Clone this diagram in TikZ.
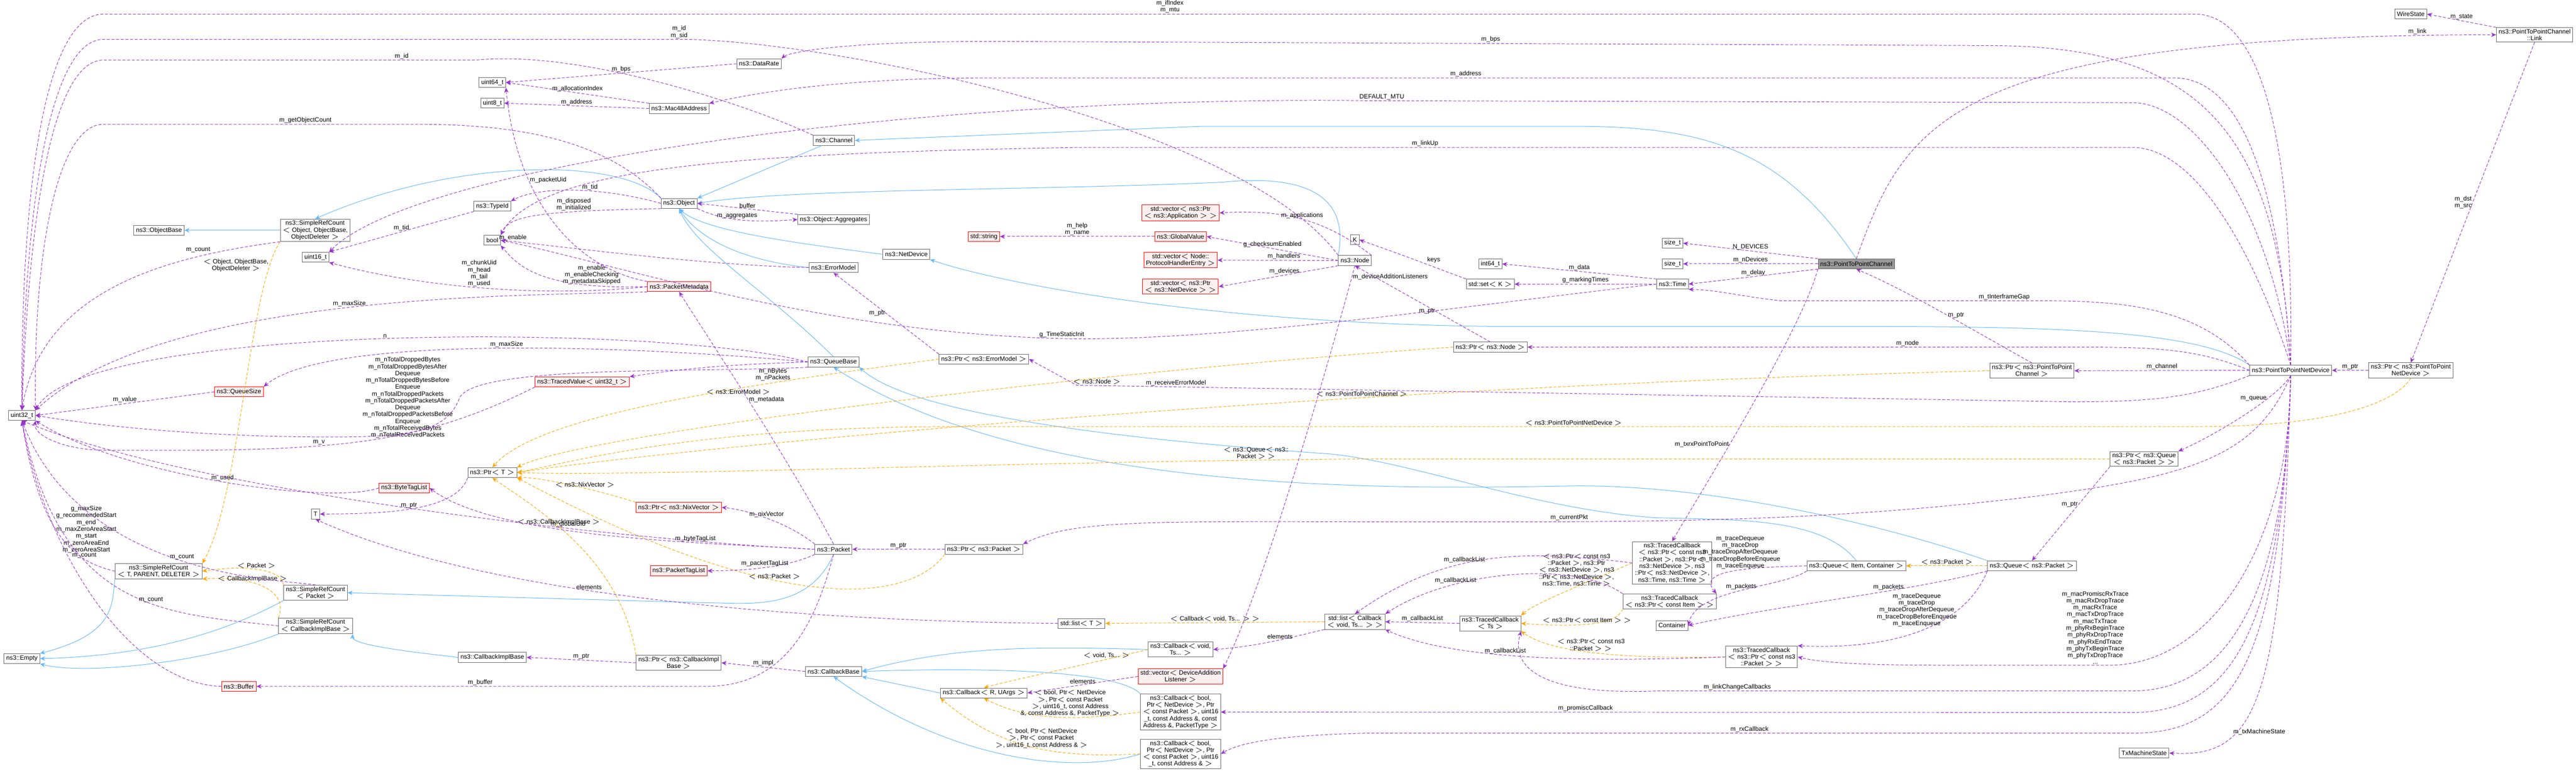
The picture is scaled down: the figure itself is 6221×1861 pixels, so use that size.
\documentclass[tikz,border=0pt]{standalone}
\usepackage{fontspec}
\setmainfont{Liberation Sans}
\usetikzlibrary{arrows.meta}
\definecolor{purp}{HTML}{9A32CD}
\definecolor{orng}{HTML}{FFA500}
\definecolor{lblue}{HTML}{63B8FF}
\definecolor{redfill}{HTML}{FFF0F0}
\tikzset{
  box/.style={draw=black!60, fill=white, font=\fontsize{4.3}{4.7}\selectfont, align=center, inner xsep=1.5pt, inner ysep=1pt, minimum height=6.8pt, line width=0.35pt},
  redbox/.style={box, draw=red, fill=redfill},
  greybox/.style={box, fill=black!40},
  lbl/.style={font=\fontsize{4.3}{4.7}\selectfont, align=center, inner sep=0.5pt},
  mem/.style={draw=purp, dashed, dash pattern=on 2pt off 1.2pt, line width=0.35pt, -{Stealth[length=3.5pt,width=3pt]}},
  inh/.style={draw=lblue, line width=0.35pt, -{Stealth[length=3.5pt,width=3pt]}},
  tpl/.style={draw=orng, dashed, dash pattern=on 2pt off 1.2pt, line width=0.35pt, -{Stealth[length=3.5pt,width=3pt]}},
}
\begin{document}
\begin{tikzpicture}[x=0.01cm,y=-0.01cm]
\useasboundingbox (0,0) rectangle (6221,1861);
% left column
\node[box] (uint32) at (53,1003) {uint32\_t};
\node[box] (empty) at (53,1590) {ns3::Empty};
\node[box] (objbase) at (384,556) {ns3::ObjectBase};
\node[box] (srctpd) at (383,1379) {ns3::SimpleRefCount\\$<$ T, PARENT, DELETER $>$};
\node[redbox] (qsize) at (577,946) {ns3::QueueSize};
\node[redbox] (buffer) at (577,1657) {ns3::Buffer};
\node[box] (srcobj) at (761,556) {ns3::SimpleRefCount\\$<$ Object, ObjectBase,\\ObjectDeleter $>$};
\node[box] (uint16) at (762,621) {uint16\_t};
\node[box] (tt) at (762,1241) {T};
\node[box] (srcpkt) at (762,1431) {ns3::SimpleRefCount\\$<$ Packet $>$};
\node[box] (srccib) at (762,1511) {ns3::SimpleRefCount\\$<$ CallbackImplBase $>$};
\node[redbox] (btaglist) at (976,1178) {ns3::ByteTagList};
\node[box] (uint64) at (1189,199) {uint64\_t};
\node[box] (uint8) at (1189,249) {uint8\_t};
\node[box] (typeid) at (1189,498) {ns3::TypeId};
\node[box] (boolt) at (1189,580) {bool};
\node[box] (ptrt) at (1189,1141) {ns3::Ptr$<$ T $>$};
\node[box] (cibase) at (1189,1587) {ns3::CallbackImplBase};
\node[redbox] (tvalue) at (1406,922) {ns3::TracedValue$<$ uint32\_t $>$};
% second column
\node[box] (mac48) at (1640,262) {ns3::Mac48Address};
\node[box] (object) at (1640,491) {ns3::Object};
\node[redbox] (pktmeta) at (1640,692) {ns3::PacketMetadata};
\node[redbox] (ptrnix) at (1639,1225) {ns3::Ptr$<$ ns3::NixVector $>$};
\node[redbox] (ptaglist) at (1639,1378) {ns3::PacketTagList};
\node[box] (ptrcib) at (1639,1600) {ns3::Ptr$<$ ns3::CallbackImpl\\Base $>$};
\node[box] (datarate) at (1833,154) {ns3::DataRate};
\node[box] (channel) at (2014,339) {ns3::Channel};
\node[box] (aggr) at (2013,530) {ns3::Object::Aggregates};
\node[box] (errmodel) at (2013,646) {ns3::ErrorModel};
\node[box] (qbase) at (2013,874) {ns3::QueueBase};
\node[box] (packet) at (2013,1326) {ns3::Packet};
\node[box] (cbbase) at (2013,1621) {ns3::CallbackBase};
\node[box] (netdev) at (2189,614) {ns3::NetDevice};
\node[redbox] (stdstr) at (2376,571) {std::string};
\node[box] (ptrerr) at (2376,867) {ns3::Ptr$<$ ns3::ErrorModel $>$};
\node[box] (ptrpkt) at (2376,1326) {ns3::Ptr$<$ ns3::Packet $>$};
\node[box] (cbr) at (2376,1673) {ns3::Callback$<$ R, UArgs $>$};
\node[box] (stdlist) at (2612,1505) {std::list$<$ T $>$};
\node[redbox] (vecapp) at (2851,514) {std::vector$<$ ns3::Ptr\\$<$ ns3::Application $>$ $>$};
\node[redbox] (gvalue) at (2851,571) {ns3::GlobalValue};
\node[redbox] (vechand) at (2851,628) {std::vector$<$ Node::\\ProtocolHandlerEntry $>$};
\node[redbox] (vecdev) at (2851,692) {std::vector$<$ ns3::Ptr\\$<$ ns3::NetDevice $>$ $>$};
\node[box] (cbvoid) at (2851,1568) {ns3::Callback$<$ void,\\Ts... $>$};
\node[redbox] (vecdal) at (2851,1633) {std::vector$<$ DeviceAddition\\Listener $>$};
\node[box] (cbpt) at (2851,1719) {ns3::Callback$<$ bool,\\Ptr$<$ NetDevice $>$, Ptr\\$<$ const Packet $>$, uint16\\\_t, const Address \&, const\\Address \&, PacketType $>$};
\node[box] (cbaddr) at (2851,1820) {ns3::Callback$<$ bool,\\Ptr$<$ NetDevice $>$, Ptr\\$<$ const Packet $>$, uint16\\\_t, const Address \& $>$};
% right part
\node[box] (knode) at (3272,579) {K};
\node[box] (node) at (3272,629) {ns3::Node};
\node[box] (listcb) at (3272,1501) {std::list$<$ Callback\\$<$ void, Ts... $>$ $>$};
\node[box] (int64) at (3599,637) {int64\_t};
\node[box] (stdset) at (3599,686) {std::set$<$ K $>$};
\node[box] (ptrnode) at (3599,838) {ns3::Ptr$<$ ns3::Node $>$};
\node[box] (tcbts) at (3599,1505) {ns3::TracedCallback\\$<$ Ts $>$};
\node[box] (sizea) at (4039,587) {size\_t};
\node[box] (sizeb) at (4039,637) {size\_t};
\node[box] (time) at (4039,686) {ns3::Time};
\node[box] (tcb6) at (4038,1359) {ns3::TracedCallback\\$<$ ns3::Ptr$<$ const ns3\\::Packet $>$, ns3::Ptr$<$\\ns3::NetDevice $>$, ns3\\::Ptr$<$ ns3::NetDevice $>$,\\ns3::Time, ns3::Time $>$};
\node[box] (tcbitem) at (4032,1452) {ns3::TracedCallback\\$<$ ns3::Ptr$<$ const Item $>$ $>$};
\node[box] (container) at (4038,1510) {Container};
\node[box] (tcbpkt) at (4254,1586) {ns3::TracedCallback\\$<$ ns3::Ptr$<$ const ns3\\::Packet $>$ $>$};
\node[greybox] (p2pch) at (4483,637) {ns3::PointToPointChannel};
\node[box] (qitem) at (4483,1366) {ns3::Queue$<$ Item, Container $>$};
\node[box] (ptrp2pch) at (4907,895) {ns3::Ptr$<$ ns3::PointToPoint\\Channel $>$};
\node[box] (qpacket) at (4907,1366) {ns3::Queue$<$ ns3::Packet $>$};
\node[box] (ptrqueue) at (5178,1108) {ns3::Ptr$<$ ns3::Queue\\$<$ ns3::Packet $>$ $>$};
\node[box] (txstate) at (5178,1818) {TxMachineState};
\node[box] (p2pdev) at (5532,894) {ns3::PointToPointNetDevice};
\node[box] (ptrp2pdev) at (5822,894) {ns3::Ptr$<$ ns3::PointToPoint\\NetDevice $>$};
\node[box] (wirestate) at (5822,34) {WireState};
\node[box] (link) at (6121,84) {ns3::PointToPointChannel\\::Link};
% inheritance
\draw[inh] (srcobj) -- (objbase);
\draw[inh] (object.north west) .. controls (1500,380) and (1100,380) .. (srcobj.north);
\draw[inh] (channel) -- (object.north east);
\draw[inh] (netdev.west) .. controls (1950,590) and (1700,560) .. (object.south);
\draw[inh] (errmodel.west) .. controls (1800,630) and (1690,580) .. (object.south);
\draw[inh] (qbase.north) .. controls (1850,700) and (1680,600) .. (object.south);
\draw[inh] (node.north west) .. controls (3260,470) and (3150,420) .. (2950,440) .. controls (2500,460) and (1900,455) .. (object.east);
\draw[inh] (p2pch.north) .. controls (4300,350) and (4100,305) .. (3800,305) -- (2900,305) -- (channel.east);
\draw[inh] (p2pdev.north west) .. controls (5300,790) and (4900,788) .. (4400,788) -- (3600,788) .. controls (2900,780) and (2400,680) .. (netdev.south east);
\draw[inh] (qitem.north) .. controls (4400,1250) and (4200,1255) .. (4000,1250) .. controls (3700,1230) and (3400,1110) .. (3200,1095) .. controls (2700,1060) and (2200,1000) .. (qbase.south east);
\draw[inh] (qpacket.north west) .. controls (4500,1250) and (4100,1170) .. (3800,1173) .. controls (3400,1180) and (2500,1200) .. (qbase.south);
\draw[inh] (packet.south) .. controls (1950,1480) and (1800,1455) .. (1700,1455) -- (srcpkt.east);
\draw[inh] (srctpd.south west) .. controls (270,1460) and (280,1530) .. (empty.north east);
\draw[inh] (srcpkt.south west) .. controls (500,1550) and (300,1585) .. (empty.east);
\draw[inh] (srccib.south west) .. controls (500,1600) and (200,1630) .. (empty.south east);
\draw[inh] (cibase.west) .. controls (1050,1580) and (850,1560) .. (srccib.south east);
\draw[inh] (cbvoid.west) .. controls (2500,1560) and (2300,1560) .. (cbbase.east);
\draw[inh] (cbr.west) -- (cbbase.south east);
\draw[inh] (cbpt.north west) .. controls (2700,1620) and (2400,1610) .. (cbbase.east);
\draw[inh] (cbaddr.west) .. controls (2600,1870) and (2300,1840) .. (cbbase.south);
% template instances
\draw[tpl] (srcobj.south west) .. controls (600,700) and (580,1200) .. node[lbl,pos=0.12,left]{$<$ Object, ObjectBase,\\ObjectDeleter $>$} (srctpd.north east);
\draw[tpl] (srcpkt.north west) .. controls (680,1370) and (580,1365) .. node[lbl,above]{$<$ Packet $>$} (srctpd.east);
\draw[tpl] (srccib.north west) .. controls (700,1420) and (600,1390) .. node[lbl,above,pos=0.6]{$<$ CallbackImplBase $>$} (srctpd.south east);
\draw[tpl] (ptrnix.north west) .. controls (1450,1185) and (1300,1150) .. node[lbl,above,pos=0.4]{$<$ ns3::NixVector $>$} (ptrt.south east);
\draw[tpl] (ptrcib.north west) .. controls (1500,1350) and (1300,1230) .. node[lbl,pos=0.6,above]{$<$ ns3::CallbackImplBase $>$} (ptrt.south);
\draw[tpl] (ptrerr.west) .. controls (1800,930) and (1300,1000) .. node[lbl,pos=0.35,below]{$<$ ns3::ErrorModel $>$} (ptrt.north);
\draw[tpl] (ptrnode.west) .. controls (2600,900) and (1400,1050) .. node[lbl,pos=0.3,below]{$<$ ns3::Node $>$} (ptrt.north east);
\draw[tpl] (ptrp2pch.west) .. controls (3000,940) and (1500,1100) .. node[lbl,pos=0.3,above]{$<$ ns3::PointToPointChannel $>$} (ptrt.east);
\draw[tpl] (ptrp2pdev.south) .. controls (5800,950) and (5700,1030) .. (5300,1030) -- node[lbl,pos=0.5,above]{$<$ ns3::PointToPointNetDevice $>$} (2300,1030) .. controls (1700,1030) and (1400,1110) .. (ptrt.east);
\draw[tpl] (ptrqueue.west) -- (3300,1108) .. controls (2400,1115) and (1600,1150) .. node[lbl,pos=0.1,above]{$<$ ns3::Queue$<$ ns3::\\Packet $>$ $>$} (ptrt.east);
\draw[tpl] (ptrpkt.south west) .. controls (2200,1450) and (1900,1500) .. node[lbl,pos=0.6,above]{$<$ ns3::Packet $>$} (ptrt.south east);
\draw[tpl] (cbvoid.west) .. controls (2600,1610) and (2450,1640) .. node[lbl,pos=0.2,above]{$<$ void, Ts... $>$} (cbr.north);
\draw[tpl] (cbpt.west) .. controls (2600,1740) and (2480,1740) .. node[lbl,pos=0.4,above]{$<$ bool, Ptr$<$ NetDevice\\$>$, Ptr$<$ const Packet\\$>$, uint16\_t, const Address\\\&, const Address \&, PacketType $>$} (cbr.south);
\draw[tpl] (cbaddr.west) .. controls (2550,1830) and (2420,1810) .. node[lbl,pos=0.45,above]{$<$ bool, Ptr$<$ NetDevice\\$>$, Ptr$<$ const Packet\\$>$, uint16\_t, const Address \& $>$} (cbr.south west);
\draw[tpl] (listcb.west) -- node[lbl,above]{$<$ Callback$<$ void, Ts... $>$ $>$} (stdlist.east);
\draw[tpl] (tcb6.west) .. controls (3800,1420) and (3700,1460) .. node[lbl,pos=0.1,left]{$<$ ns3::Ptr$<$ const ns3\\::Packet $>$, ns3::Ptr\\$<$ ns3::NetDevice $>$, ns3\\::Ptr$<$ ns3::NetDevice $>$,\\ns3::Time, ns3::Time $>$} (tcbts.north east);
\draw[tpl] (tcbitem.south west) .. controls (3900,1520) and (3750,1510) .. node[lbl,pos=0.45,above]{$<$ ns3::Ptr$<$ const Item $>$ $>$} (tcbts.east);
\draw[tpl] (tcbpkt.west) .. controls (3950,1590) and (3750,1580) .. node[lbl,pos=0.55,above]{$<$ ns3::Ptr$<$ const ns3\\::Packet $>$ $>$} (tcbts.south east);
\draw[tpl] (qpacket.west) -- node[lbl,above]{$<$ ns3::Packet $>$} (qitem.east);
% members, long routes
\draw[mem] (p2pdev.north) .. controls (5540,300) and (5450,34) .. (5300,34) -- node[lbl,above,pos=0.49]{m\_ifIndex\\m\_mtu} (250,34) .. controls (100,34) and (50,500) .. (uint32.north);
\draw[mem] (node.north west) .. controls (3000,300) and (2000,95) .. (1640,95) node[lbl,above]{m\_id\\m\_sid} -- (250,95) .. controls (120,95) and (60,500) .. (uint32.north);
\draw[mem] (channel.north west) .. controls (1800,250) and (1400,120) .. (1150,145) -- node[lbl,above,pos=0.2]{m\_id} (250,145) .. controls (130,145) and (70,500) .. (uint32.north);
\draw[mem] (object.north west) .. controls (1450,320) and (1200,300) .. (1000,300) -- node[lbl,above,pos=0.35]{m\_getObjectCount} (250,300) .. controls (140,300) and (80,600) .. (uint32.north east);
\draw[mem] (p2pdev.north) .. controls (5500,300) and (5300,110) .. (4800,110) -- node[lbl,above]{m\_bps} (2400,100) .. controls (2000,100) and (1900,130) .. (datarate.north east);
\draw[mem] (p2pdev.north) .. controls (5500,400) and (5400,188) .. (5250,188) -- node[lbl,above,pos=0.6]{m\_address} (2400,188) .. controls (2000,188) and (1800,230) .. (mac48.north east);
\draw[mem] (p2pdev.north) .. controls (5480,500) and (5300,248) .. (5150,248) -- node[lbl,above,pos=0.98]{DEFAULT\_MTU} (3300,243) .. controls (2200,230) and (1000,400) .. (uint16.north east);
\draw[mem] (p2pdev.north) .. controls (5440,600) and (5300,356) .. (5150,356) -- node[lbl,above,pos=0.67]{m\_linkUp} (2600,356) .. controls (1800,370) and (1300,400) .. (boolt.north east);
\draw[mem] (p2pch.north) .. controls (4600,300) and (4700,85) .. node[lbl,pos=0.95,above]{m\_link} (link.west);
\draw[mem] (link.north west) -- node[lbl,above]{m\_state} (wirestate.east);
\draw[mem] (link.south) -- node[lbl,pos=0.5,left]{m\_dst\\m\_src} (ptrp2pdev.north);
\draw[mem] (ptrp2pdev.west) -- node[lbl,above]{m\_ptr} (p2pdev.east);
\draw[mem] (p2pdev.west) -- node[lbl,above]{m\_channel} (ptrp2pch.east);
\draw[mem] (ptrp2pch.north) .. controls (4700,760) and (4600,700) .. node[lbl,pos=0.4,right]{m\_ptr} (p2pch.south);
\draw[mem] (p2pdev.north west) .. controls (5300,730) and (5100,726) .. (4900,726) -- node[lbl,pos=0.1,above]{m\_tInterframeGap} (4300,726) .. controls (4200,715) and (4150,700) .. (time.south east);
\draw[mem] (p2pdev.west) .. controls (5300,840) and (5200,838) .. (5000,838) -- node[lbl,pos=0.3,above]{m\_node} (ptrnode.east);
\draw[mem] (ptrnode.north) -- node[lbl,pos=0.4,left]{m\_ptr} (node.south);
\draw[mem] (p2pdev.south west) .. controls (5300,960) and (5200,970) .. (5000,970) -- node[lbl,pos=0.9,above]{m\_receiveErrorModel} (2600,930) -- (ptrerr.east);
\draw[mem] (p2pdev.south) .. controls (5450,1100) and (5300,1150) .. (4900,1200) .. controls (4400,1260) and (4000,1260) .. node[lbl,pos=0.8,above]{m\_currentPkt} (3500,1260) .. controls (2800,1260) and (2600,1250) .. (ptrpkt.north east);
\draw[mem] (p2pdev.south) .. controls (5500,960) and (5350,1050) .. node[lbl,pos=0.3,left]{m\_queue} (ptrqueue.north east);
\draw[mem] (ptrqueue.south west) -- node[lbl,pos=0.4,left]{m\_ptr} (qpacket.north);
\draw[mem] (p2pdev.south) .. controls (5530,1300) and (5350,1600) .. (5100,1606) -- node[lbl,pos=0.1,above]{m\_macPromiscRxTrace\\m\_macRxDropTrace\\m\_macRxTrace\\m\_macTxDropTrace\\m\_macTxTrace\\m\_phyRxBeginTrace\\m\_phyRxDropTrace\\m\_phyRxEndTrace\\m\_phyTxBeginTrace\\m\_phyTxDropTrace\\...} (4700,1606) .. controls (4500,1606) and (4400,1600) .. (tcbpkt.east);
\draw[mem] (p2pdev.south) .. controls (5520,1400) and (5400,1668) .. (5150,1668) -- node[lbl,pos=0.83,above]{m\_linkChangeCallbacks} (4000,1668) .. controls (3700,1680) and (3650,1600) .. (tcbts.south east);
\draw[mem] (p2pdev.south) .. controls (5510,1500) and (5400,1720) .. (5150,1720) -- node[lbl,pos=0.6,above]{m\_promiscCallback} (cbpt.east);
\draw[mem] (p2pdev.south) .. controls (5505,1600) and (5400,1770) .. (5150,1770) -- node[lbl,pos=0.5,above]{m\_rxCallback} (3300,1770) .. controls (3100,1775) and (3000,1790) .. (cbaddr.east);
\draw[mem] (p2pdev.south) .. controls (5510,1700) and (5450,1830) .. node[lbl,pos=0.7,above right]{m\_txMachineState} (txstate.east);
\draw[mem] (p2pch.south west) .. controls (4350,800) and (4100,1200) .. node[lbl,pos=0.6,left]{m\_txrxPointToPoint} (tcb6.north);
\draw[mem] (p2pch.north west) -- node[lbl,above]{N\_DEVICES} (sizea.east);
\draw[mem] (p2pch.west) -- node[lbl,above]{m\_nDevices} (sizeb.east);
\draw[mem] (p2pch.south west) -- node[lbl,above]{m\_delay} (time.east);
\draw[mem] (time.north west) -- node[lbl,above]{m\_data} (int64.east);
\draw[mem] (time.west) -- node[lbl,above]{g\_markingTimes} (stdset.east);
\draw[mem] (stdset.north west) .. controls (3450,640) and (3400,620) .. node[lbl,pos=0.4,above right]{keys} (knode.east);
\draw[mem] (time.west) .. controls (3600,730) and (3000,820) .. (2600,818) .. controls (2000,810) and (1500,640) .. node[lbl,pos=0.02,above]{g\_TimeStaticInit} (boolt.east);
% node members
\draw[mem] (node.north east) .. controls (3200,530) and (3100,505) .. node[lbl,pos=0.5,above]{m\_applications} (vecapp.east);
\draw[mem] (node.west) -- node[lbl,pos=0.5,above]{g\_checksumEnabled} (gvalue.east);
\draw[mem] (node.west) -- node[lbl,pos=0.45,above]{m\_handlers} (vechand.east);
\draw[mem] (node.south west) -- node[lbl,pos=0.45,above]{m\_devices} (vecdev.east);
\draw[mem] (node.south) .. controls (3230,800) and (3060,1400) .. node[lbl,pos=0.05,right]{m\_deviceAdditionListeners} (vecdal.north east);
\draw[mem] (gvalue.west) -- node[lbl,above]{m\_help\\m\_name} (stdstr.east);
\draw[mem] (vecdal.west) -- node[lbl,above]{elements} (cbr.east);
\draw[mem] (listcb.south west) .. controls (3150,1530) and (3050,1560) .. node[lbl,pos=0.5,above]{elements} (cbvoid.east);
\draw[mem] (stdlist.west) .. controls (2000,1500) and (1200,1450) .. node[lbl,pos=0.6,above]{elements} (tt.south);
% traced callbacks
\draw[mem] (tcb6.west) .. controls (3700,1330) and (3500,1320) .. node[lbl,pos=0.6,above]{m\_callbackList} (listcb.north);
\draw[mem] (tcbitem.north west) .. controls (3800,1350) and (3500,1380) .. node[lbl,pos=0.7,above]{m\_callbackList} (listcb.north east);
\draw[mem] (tcbts.west) -- node[lbl,above]{m\_callbackList} (listcb.east);
\draw[mem] (tcbpkt.west) .. controls (3800,1600) and (3500,1590) .. node[lbl,pos=0.55,above]{m\_callbackList} (listcb.south east);
\draw[mem] (qitem.west) .. controls (4200,1370) and (4100,1380) .. node[lbl,pos=0.4,above]{m\_traceDequeue\\m\_traceDrop\\m\_traceDropAfterDequeue\\m\_traceDropBeforeEnqueue\\m\_traceEnqueue} (tcbitem.north east);
\draw[mem] (qitem.south west) .. controls (4300,1420) and (4100,1420) .. node[lbl,pos=0.5,above]{m\_packets} (container.east);
\draw[mem] (qpacket.south west) .. controls (4600,1430) and (4300,1460) .. node[lbl,pos=0.35,above]{m\_packets} (container.east);
\draw[mem] (qpacket.south west) .. controls (4750,1500) and (4600,1570) .. node[lbl,pos=0.3,left]{m\_traceDequeue\\m\_traceDrop\\m\_traceDropAfterDequeue\\m\_traceDropBeforeEnqueue\\m\_traceEnqueue} (tcbpkt.north east);
% left members
\draw[mem] (datarate.west) -- node[lbl,above]{m\_bps} (uint64.east);
\draw[mem] (mac48.north west) -- node[lbl,above]{m\_allocationIndex} (uint64.east);
\draw[mem] (mac48.west) -- node[lbl,above]{m\_address} (uint8.east);
\draw[mem] (object.west) .. controls (1450,450) and (1300,450) .. node[lbl,pos=0.4,above]{m\_tid} (typeid.north east);
\draw[mem] (typeid.south west) -- node[lbl,above]{m\_tid} (uint16.north east);
\draw[mem] (object.south west) .. controls (1300,510) and (1230,520) .. node[lbl,pos=0.3,above]{m\_disposed\\m\_initialized} (boolt.north east);
\draw[mem] (pktmeta.north west) .. controls (1400,650) and (1250,500) .. node[lbl,pos=0.7,right]{m\_packetUid} (uint64.south east);
\draw[mem] (pktmeta.west) .. controls (1300,720) and (1000,690) .. node[lbl,pos=0.5,above]{m\_chunkUid\\m\_head\\m\_tail\\m\_used} (uint16.south east);
\draw[mem] (pktmeta.west) .. controls (1300,700) and (1250,640) .. node[lbl,pos=0.2,above]{m\_enable\\m\_enableChecking\\m\_metadataSkipped} (boolt.south east);
\draw[mem] (errmodel.west) .. controls (1700,640) and (1400,600) .. node[lbl,pos=0.95,above]{m\_enable} (boolt.east);
\draw[mem] (pktmeta.south west) .. controls (1300,715) and (400,700) .. node[lbl,pos=0.5,above]{m\_maxSize} (uint32.north east);
\draw[mem] (qbase.west) .. controls (1600,780) and (200,780) .. node[lbl,pos=0.5,above]{n} (uint32.north east);
\draw[mem] (qbase.west) .. controls (1600,840) and (800,800) .. node[lbl,pos=0.5,above]{m\_maxSize} (qsize.north east);
\draw[mem] (qbase.west) .. controls (1750,880) and (1650,890) .. node[lbl,pos=0.15,below=3pt]{m\_nBytes\\m\_nPackets} (tvalue.north east);
\draw[mem] (qbase.south west) .. controls (1700,900) and (1150,880) .. (1110,960) node[lbl,left=4pt]{m\_nTotalDroppedBytes\\m\_nTotalDroppedBytesAfter\\Dequeue\\m\_nTotalDroppedBytesBefore\\Enqueue\\m\_nTotalDroppedPackets\\m\_nTotalDroppedPacketsAfter\\Dequeue\\m\_nTotalDroppedPacketsBefore\\Enqueue\\m\_nTotalReceivedBytes\\m\_nTotalReceivedPackets} .. controls (1080,1040) and (1000,1055) .. (800,1055) .. controls (500,1055) and (250,1030) .. (uint32.east);
\draw[mem] (qsize.west) -- node[lbl,above]{m\_value} (uint32.east);
\draw[mem] (tvalue.south west) .. controls (1000,1080) and (800,1090) .. node[lbl,pos=0.6,above]{m\_v} (250,1087) .. controls (150,1085) and (80,1050) .. (uint32.south east);
\draw[mem] (btaglist.west) .. controls (800,1220) and (300,1150) .. node[lbl,pos=0.5,above]{m\_used} (uint32.south east);
\draw[mem] (packet.west) .. controls (1600,1310) and (500,1200) .. node[lbl,pos=0.35,above]{m\_globalUid} (uint32.south);
\draw[mem] (packet.west) .. controls (1700,1310) and (1200,1300) .. node[lbl,pos=0.3,above]{m\_byteTagList} (btaglist.east);
\draw[mem] (packet.north) .. controls (1900,1100) and (1700,800) .. node[lbl,pos=0.5,right]{m\_metadata} (pktmeta.south);
\draw[mem] (packet.north west) .. controls (1900,1260) and (1800,1230) .. node[lbl,pos=0.5,above]{m\_nixVector} (ptrnix.east);
\draw[mem] (packet.south west) .. controls (1900,1370) and (1800,1378) .. node[lbl,pos=0.5,above]{m\_packetTagList} (ptaglist.east);
\draw[mem] (packet.south) .. controls (1970,1500) and (1900,1660) .. (1700,1657) -- node[lbl,pos=0.5,above]{m\_buffer} (buffer.east);
\draw[mem] (buffer.west) .. controls (300,1650) and (100,1300) .. node[lbl,pos=0.7,right]{g\_maxSize\\g\_recommendedStart\\m\_end\\m\_maxZeroAreaStart\\m\_start\\m\_zeroAreaEnd\\m\_zeroAreaStart} (uint32.south);
\draw[mem] (ptrpkt.west) -- node[lbl,above]{m\_ptr} (packet.east);
\draw[mem] (ptrerr.north west) -- node[lbl,pos=0.5,left]{m\_ptr} (errmodel.south);
\draw[mem] (aggr.north west) -- node[lbl,above]{buffer} (object.east);
\draw[mem] (object.south east) .. controls (1760,540) and (1850,535) .. node[lbl,pos=0.4,above]{m\_aggregates} (aggr.west);
\draw[mem] (ptrt.south west) .. controls (1100,1240) and (900,1240) .. node[lbl,pos=0.5,above]{m\_ptr} (tt.east);
\draw[mem] (ptrcib.west) -- node[lbl,above]{m\_ptr} (cibase.east);
\draw[mem] (cbbase.west) -- node[lbl,above]{m\_impl} (ptrcib.east);
\draw[mem] (srctpd.west) .. controls (200,1360) and (100,1320) .. node[lbl,pos=0.3,above]{m\_count} (uint32.south);
\draw[mem] (srcpkt.north) .. controls (700,1400) and (200,1400) .. node[lbl,pos=0.5,above]{m\_count} (uint32.south);
\draw[mem] (srccib.west) .. controls (400,1480) and (150,1480) .. node[lbl,pos=0.4,above]{m\_count} (uint32.south);
\draw[mem] (srcobj.south west) .. controls (400,620) and (100,700) .. node[lbl,pos=0.2,above left]{m\_count} (uint32.north);
\end{tikzpicture}
\end{document}
